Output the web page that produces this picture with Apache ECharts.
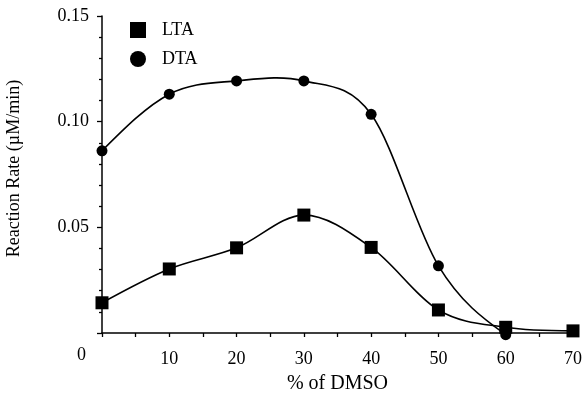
<!DOCTYPE html>
<html>
<head>
<meta charset="utf-8">
<script src="https://cdn.jsdelivr.net/npm/echarts@6/dist/echarts.min.js"></script>
<style>
html,body{margin:0;padding:0;background:#fff;}
#c{width:584px;height:394px;}
</style>
</head>
<body>
<div id="c"></div>
<script>
const dmso = [0, 10, 20, 30, 40, 50, 60, 70];
const ltaValues = [0.0143, 0.0303, 0.0403, 0.0558, 0.0405, 0.0109, 0.0027, 0.0010];
const dtaX = [0, 10, 20, 30, 40, 50, 60];
const dtaValues = [0.0862, 0.1130, 0.1193, 0.1193, 0.1035, 0.0318, -0.0008];
const yTicks = [0, 0.05, 0.10, 0.15];
const xTitle = '% of DMSO';
const yTitle = 'Reaction Rate (µM/min)';

const FONT = '"Liberation Serif", "DejaVu Serif", serif';
const chart = echarts.init(document.getElementById('c'), null, {renderer: 'canvas'});

const ltaData = dmso.map((x, i) => [x, ltaValues[i]]);
const dtaData = dtaX.map((x, i) => [x, dtaValues[i]]);

// Smooth curve through the data points (cubic spline segments), positioned via the axes' scales.
function curveSeries(name, data) {
  return {
    name: name,
    type: 'custom',
    data: data,
    encode: {x: 0, y: 1},
    clip: false,
    silent: true,
    z: 1,
    renderItem: function (params, api) {
      const i = params.dataIndex;
      const n = data.length;
      if (i >= n - 1) return null;
      const P = data.map(d => api.coord(d));
      const m = [];
      for (let k = 1; k < n - 1; k++) {
        m[k] = [(P[k + 1][0] - P[k - 1][0]) / 2, (P[k + 1][1] - P[k - 1][1]) / 2];
      }
      if (n > 2) {
        m[0] = [(3 * (P[1][0] - P[0][0]) - m[1][0]) / 2, (3 * (P[1][1] - P[0][1]) - m[1][1]) / 2];
        m[n - 1] = [(3 * (P[n - 1][0] - P[n - 2][0]) - m[n - 2][0]) / 2, (3 * (P[n - 1][1] - P[n - 2][1]) - m[n - 2][1]) / 2];
      } else {
        m[0] = [P[1][0] - P[0][0], P[1][1] - P[0][1]];
        m[1] = m[0];
      }
      const a = P[i], b = P[i + 1];
      return {
        type: 'bezierCurve',
        shape: {
          x1: a[0], y1: a[1],
          cpx1: a[0] + m[i][0] / 3, cpy1: a[1] + m[i][1] / 3,
          cpx2: b[0] - m[i + 1][0] / 3, cpy2: b[1] - m[i + 1][1] / 3,
          x2: b[0], y2: b[1]
        },
        style: {stroke: '#000', lineWidth: 1.6, fill: null}
      };
    }
  };
}

chart.setOption({
  backgroundColor: '#fff',
  animation: false,
  grid: {left: 102, right: 11, top: 16, bottom: 61, containLabel: false, outerBoundsMode: 'none'},
  legend: {
    orient: 'vertical',
    left: 130,
    top: 21,
    padding: 0,
    itemWidth: 16,
    itemHeight: 16,
    itemGap: 11,
    textStyle: {fontFamily: FONT, fontSize: 18, color: '#000', lineHeight: 18, padding: [0, 0, 0, 11]},
    data: [
      {name: 'LTA', icon: 'rect'},
      {name: 'DTA', icon: 'circle'}
    ]
  },
  xAxis: {
    type: 'value',
    min: 0,
    max: 70,
    interval: 10,
    name: xTitle,
    nameLocation: 'middle',
    nameGap: 41,
    nameTextStyle: {fontFamily: FONT, fontSize: 20, color: '#000'},
    axisLine: {lineStyle: {color: '#000', width: 1.5}},
    axisTick: {show: true, inside: false, length: 4, lineStyle: {color: '#000', width: 1.3}},
    minorTick: {show: true, splitNumber: 2, length: 4, lineStyle: {color: '#000', width: 1.3}},
    axisLabel: {
      fontFamily: FONT, fontSize: 18, color: '#000', margin: 17,
      formatter: v => (v === 0 ? '' : String(v))
    },
    splitLine: {show: false}
  },
  yAxis: {
    type: 'value',
    min: 0,
    max: 0.15,
    interval: 0.05,
    name: yTitle,
    nameLocation: 'middle',
    nameGap: 79,
    nameRotate: 90,
    nameTextStyle: {fontFamily: FONT, fontSize: 18, color: '#000', padding: [0, 0, 0, 12]},
    axisLine: {show: true, lineStyle: {color: '#000', width: 1.5}},
    axisTick: {show: true, inside: false, length: 5, lineStyle: {color: '#000', width: 1.3}},
    minorTick: {show: true, splitNumber: 5, length: 3, lineStyle: {color: '#000', width: 1.3}},
    axisLabel: {
      fontFamily: FONT, fontSize: 18, color: '#000', margin: 13,
      formatter: v => {
        const t = yTicks.find(k => Math.abs(k - v) < 1e-9);
        return (t === undefined || t === 0) ? '' : t.toFixed(2);
      }
    },
    splitLine: {show: false}
  },
  graphic: [{
    type: 'text',
    left: 77,
    top: 346,
    style: {text: '0', font: '18px "Liberation Serif", serif', fill: '#000'}
  }],
  series: [
    curveSeries('LTA curve', ltaData),
    curveSeries('DTA curve', dtaData),
    {
      name: 'LTA',
      type: 'scatter',
      data: ltaData,
      symbol: 'rect',
      symbolSize: 13,
      clip: false,
      itemStyle: {color: '#000', opacity: 1},
      z: 4
    },
    {
      name: 'DTA',
      type: 'scatter',
      data: dtaData,
      symbol: 'circle',
      symbolSize: 11,
      clip: false,
      itemStyle: {color: '#000', opacity: 1},
      z: 3
    }
  ]
});
</script>
</body>
</html>
